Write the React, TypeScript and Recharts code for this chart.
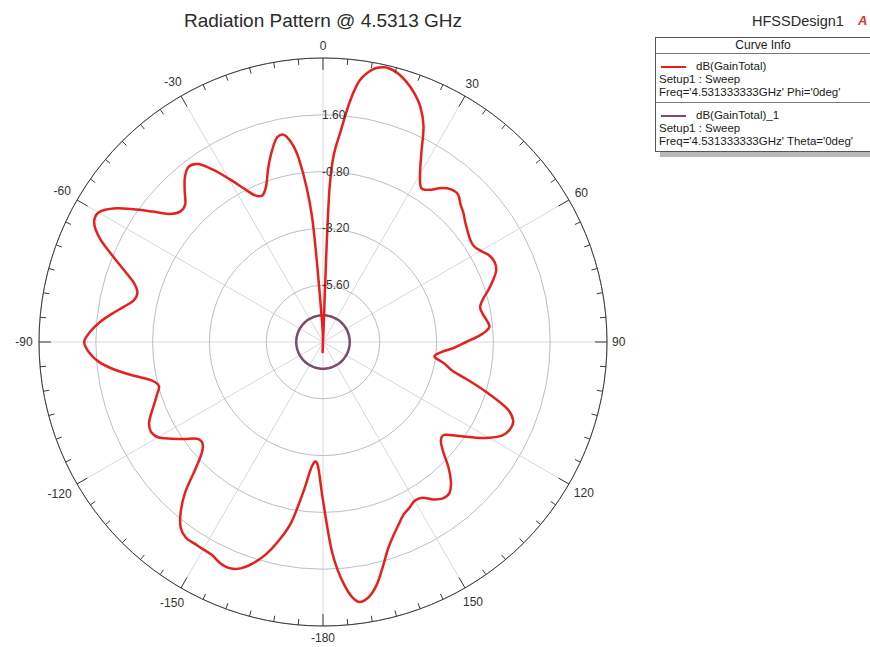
import React from "react";
import { PolarAngleAxis, PolarGrid, PolarRadiusAxis, Radar, RadarChart } from "recharts";

// dB(GainTotal), Phi = 0deg, read every 2.5 degrees starting at 0 (clockwise from top)
const GAIN_PHI0 = [
  -8.0, -1.3, 1.1, 2.95, 3.65, 3.89, 3.83, 3.58, 3.22, 2.75, 2.05, 1.0,
  0.2, -0.28, -0.15, 0.2, 0.42, 0.45, 0.22, 0.05, -0.15, -0.3, -0.42, -0.45,
  -0.3, -0.08, 0.0, -0.08, -0.35, -0.67, -1.0, -1.2, -1.15, -1.02, -0.95, -1.35,
  -1.95, -2.45, -3.0, -3.25, -2.8, -2.4, -1.55, -0.6, 0.3, 0.7, 0.72, 0.55,
  0.1, -0.5, -1.1, -1.55, -1.5, -1.1, -0.5, 0.0, 0.32, 0.33, 0.12, -0.2,
  -0.25, -0.1, 0.05, 0.35, 0.7, 1.15, 1.8, 2.5, 2.97, 3.05, 2.3, 0.9,
  -1.3, -2.8, -2.75, -1.6, -0.25, 0.58, 1.28, 1.8, 2.18, 2.34, 2.3, 2.15,
  2.12, 2.1, 2.1, 1.88, 1.35, 0.62, -0.35, -1.05, -1.35, -1.28, -0.85, -0.4,
  0.05, 0.2, 0.11, -0.15, -0.42, -0.65, -0.82, -0.55, 0.15, 0.9, 1.52, 1.9,
  2.09, 1.85, 1.48, 1.02, 0.55, 0.18, 0.12, 0.4, 0.98, 1.68, 2.42, 2.9,
  2.95, 2.5, 1.78, 1.05, 0.42, 0.17, 0.23, 0.65, 1.08, 1.33, 1.18, 0.62,
  -0.03, -0.65, -1.15, -1.3, -0.98, -0.3, 0.35, 0.88, 0.8, -0.2, -2.7, -7.2,
];
// dB(GainTotal)_1, Theta = 0deg: flat over phi
const GAIN_THETA0 = -6.87;

const ANGLE_STEP = 2.5;
const ANGLES = GAIN_PHI0.map((_, i) => i * ANGLE_STEP);
const MAJOR_ANGLES = [0, 30, 60, 90, 120, 150, 180, 210, 240, 270, 300, 330];
const RADIUS_TICKS = [-8, -5.6, -3.2, -0.8, 1.6, 4];

const RED = "#e8201c";
const PURPLE = "#7b4a6c";
const TICK_SIZE = 8;
const FONT = 'Arial, "Liberation Sans", sans-serif';

const data = ANGLES.map((deg, i) => ({
  deg,
  phi0: GAIN_PHI0[i],
  theta0: GAIN_THETA0,
}));

const SERIES = [
  { name: "dB(GainTotal)", color: RED, info: ["Setup1 : Sweep", "Freq='4.531333333GHz' Phi='0deg'"] },
  { name: "dB(GainTotal)_1", color: PURPLE, info: ["Setup1 : Sweep", "Freq='4.531333333GHz' Theta='0deg'"] },
];

function angleLabel(deg: number) {
  if (deg === 0) return "0";
  return deg >= 180 ? String(deg - 360) : String(deg);
}

function AngleTick(props: any) {
  const { x, y, payload } = props;
  const deg: number = payload.value;
  if (deg % 5 !== 0) return null;
  const rad = (-payload.coordinate * Math.PI) / 180;
  const ux = Math.cos(rad);
  const uy = Math.sin(rad);
  // x, y come in TICK_SIZE outside the circle
  const ox = x - ux * TICK_SIZE;
  const oy = y - uy * TICK_SIZE;
  const major = deg % 30 === 0;
  const len = major ? 12 : 6;
  const label = angleLabel(deg);
  const d = 5 + (label.length * 6.7 * Math.abs(ux)) / 2 + 7 * Math.abs(uy);
  return (
    <g>
      <line x1={ox} y1={oy} x2={ox - ux * len} y2={oy - uy * len} stroke="#3a3a3a" strokeWidth={1} />
      {major && (
        <text
          x={ox + ux * d}
          y={oy + uy * d}
          textAnchor="middle"
          dominantBaseline="central"
          fontSize={12}
          fontFamily={FONT}
          fill="#333"
        >
          {label}
        </text>
      )}
    </g>
  );
}

function RadiusTick(props: any) {
  const { x, y, payload } = props;
  const v: number = payload.value;
  if (v <= RADIUS_TICKS[0] || v >= RADIUS_TICKS[RADIUS_TICKS.length - 1]) return null;
  return (
    <text x={x - 1} y={y} textAnchor="start" dominantBaseline="central" fontSize={12} fontFamily={FONT} fill="#333">
      {v.toFixed(2)}
    </text>
  );
}

// closed Catmull-Rom through the points recharts computed, so the trace looks like HFSS's smooth curve
function SmoothClosed(props: any) {
  const { points, stroke, strokeWidth } = props;
  if (!points || !points.length) return null;
  const n = points.length;
  let d = `M${points[0].x},${points[0].y}`;
  for (let i = 0; i < n; i++) {
    const p0 = points[(i - 1 + n) % n];
    const p1 = points[i];
    const p2 = points[(i + 1) % n];
    const p3 = points[(i + 2) % n];
    const c1x = p1.x + (p2.x - p0.x) / 6;
    const c1y = p1.y + (p2.y - p0.y) / 6;
    const c2x = p2.x - (p3.x - p1.x) / 6;
    const c2y = p2.y - (p3.y - p1.y) / 6;
    d += `C${c1x},${c1y} ${c2x},${c2y} ${p2.x},${p2.y}`;
  }
  return <path d={d + "Z"} fill="none" stroke={stroke} strokeWidth={strokeWidth} strokeLinejoin="round" />;
}

function CurveInfo() {
  return (
    <div
      style={{
        position: "absolute",
        left: 655,
        top: 37,
        width: 216,
        border: "1px solid #555",
        background: "#fff",
        boxShadow: "5px 5px 0 #b8b8b8",
        fontFamily: FONT,
        fontSize: 11.5,
        lineHeight: "13px",
        color: "#1a1a1a",
        boxSizing: "border-box",
      }}
    >
      <div style={{ textAlign: "center", fontSize: 12, height: 15, lineHeight: "15px", borderBottom: "1px solid #777" }}>
        Curve Info
      </div>
      {SERIES.map((s, i) => (
        <div
          key={s.name}
          style={{ padding: "6px 0 3px 3px", borderTop: i > 0 ? "1px solid #777" : "none" }}
        >
          <div style={{ display: "flex", alignItems: "center" }}>
            <span style={{ display: "inline-block", width: 25, height: 2, background: s.color, marginLeft: 2, marginRight: 10 }} />
            <span>{s.name}</span>
          </div>
          {s.info.map((t) => (
            <div key={t} style={{ whiteSpace: "nowrap" }}>
              {t}
            </div>
          ))}
        </div>
      ))}
    </div>
  );
}

export default function App() {
  return (
    <div
      style={{
        position: "absolute",
        left: 0,
        top: 0,
        width: 870,
        height: 647,
        overflow: "hidden",
        background: "#fff",
        fontFamily: FONT,
      }}
    >
      <div
        style={{
          position: "absolute",
          left: 0,
          top: 11,
          width: 646,
          textAlign: "center",
          fontSize: 19,
          lineHeight: "19px",
          color: "#2b2b2b",
        }}
      >
        Radiation Pattern @ 4.5313 GHz
      </div>
      <div style={{ position: "absolute", left: 752, top: 14, fontSize: 14.5, lineHeight: "14.5px", color: "#2b2b2b" }}>
        HFSSDesign1
      </div>
      <div style={{ position: "absolute", left: 858, top: 13, fontSize: 13, fontStyle: "italic", fontWeight: "bold", color: "#d33" }}>
        A
      </div>
      <CurveInfo />
      <RadarChart
        width={870}
        height={647}
        data={data}
        cx={323}
        cy={342}
        innerRadius={0}
        outerRadius={284}
        startAngle={90}
        endAngle={-270}
        margin={{ top: 0, right: 0, bottom: 0, left: 0 }}
      >
        <PolarGrid
          gridType="circle"
          polarAngles={MAJOR_ANGLES.map((d) => 90 - d)}
          polarRadius={[]}
          stroke="#d4d8df"
        />
        <PolarGrid gridType="circle" radialLines={false} stroke="#b8c0cc" />
        <PolarAngleAxis
          dataKey="deg"
          axisLineType="circle"
          axisLine={{ stroke: "#3a3a3a", strokeWidth: 1 }}
          tickLine={false}
          tickSize={TICK_SIZE}
          tick={AngleTick}
        />
        <PolarRadiusAxis
          type="number"
          angle={90}
          domain={[RADIUS_TICKS[0], RADIUS_TICKS[RADIUS_TICKS.length - 1]]}
          ticks={RADIUS_TICKS}
          allowDataOverflow
          axisLine={false}
          tickLine={false}
          tick={RadiusTick}
        />
        <Radar
          dataKey="theta0"
          stroke={PURPLE}
          strokeWidth={2.5}
          fill="none"
          fillOpacity={0}
          dot={false}
          shape={SmoothClosed}
          isAnimationActive={false}
        />
        <Radar
          dataKey="phi0"
          stroke={RED}
          strokeWidth={2.5}
          fill="none"
          fillOpacity={0}
          dot={false}
          shape={SmoothClosed}
          isAnimationActive={false}
        />
      </RadarChart>
    </div>
  );
}
